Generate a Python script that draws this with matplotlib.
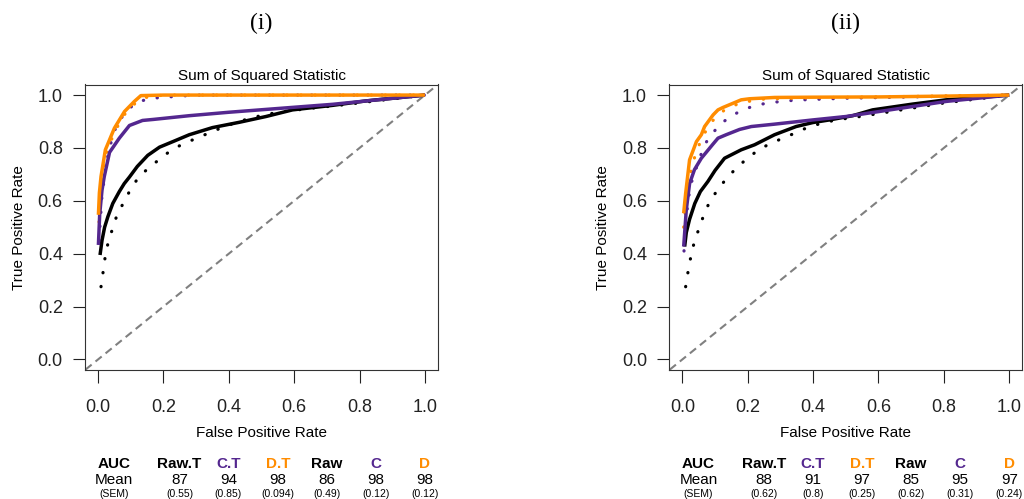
import numpy as np
import matplotlib
matplotlib.use('Agg')
import matplotlib.pyplot as plt

plt.rcParams['font.family'] = ['Liberation Sans', 'DejaVu Sans']

PURPLE = '#54278f'
ORANGE = '#ff8c00'

# ---- panel (i) curves (fpr, tpr)
p1_raw_fpr = [0.006, 0.012, 0.02, 0.03, 0.045, 0.065, 0.08, 0.096, 0.12, 0.152, 0.188, 0.229, 0.279, 0.35, 0.432, 0.514, 0.595, 0.717, 0.82, 1.0]
p1_raw_tpr = [0.395, 0.45, 0.50, 0.54, 0.59, 0.635, 0.665, 0.69, 0.73, 0.772, 0.803, 0.824, 0.85, 0.877, 0.897, 0.919, 0.944, 0.961, 0.978, 1.0]
p1_rawT_fpr = [0.009, 0.0153, 0.0214, 0.030, 0.043, 0.057, 0.077, 0.098, 0.122, 0.154, 0.189, 0.223, 0.261, 0.302, 0.342, 0.383, 0.424, 0.467, 0.508, 0.552, 0.65, 0.75, 0.85, 1.0]
p1_rawT_tpr = [0.275, 0.330, 0.385, 0.438, 0.490, 0.543, 0.591, 0.640, 0.686, 0.724, 0.758, 0.791, 0.816, 0.837, 0.858, 0.879, 0.897, 0.913, 0.925, 0.935, 0.950, 0.963, 0.978, 1.0]
p1_C_fpr = [0.001, 0.005, 0.012, 0.019, 0.035, 0.065, 0.096, 0.136, 0.17, 0.279, 0.4, 0.717, 1.0]
p1_C_tpr = [0.433, 0.55, 0.64, 0.692, 0.783, 0.837, 0.885, 0.904, 0.908, 0.922, 0.935, 0.965, 1.0]
p1_CT_fpr = [0.003, 0.012, 0.024, 0.0315, 0.043, 0.057, 0.080, 0.111, 0.152, 0.193, 0.239, 0.3, 1.0]
p1_CT_tpr = [0.45, 0.62, 0.730, 0.780, 0.837, 0.887, 0.929, 0.967, 0.986, 0.991, 0.995, 1.0, 1.0]
p1_D_fpr = [0.001, 0.004, 0.009, 0.0223, 0.050, 0.081, 0.111, 0.131, 0.2, 1.0]
p1_D_tpr = [0.547, 0.63, 0.692, 0.793, 0.875, 0.938, 0.976, 0.998, 1.0, 1.0]
p1_DT_fpr = [0.003, 0.01, 0.022, 0.05, 0.08, 0.11, 0.14, 0.2, 1.0]
p1_DT_tpr = [0.52, 0.66, 0.77, 0.86, 0.925, 0.965, 0.99, 1.0, 1.0]

# ---- panel (ii) curves
p2_raw_fpr = [0.007, 0.012, 0.022, 0.038, 0.055, 0.078, 0.10, 0.129, 0.18, 0.221, 0.282, 0.348, 0.399, 0.45, 0.521, 0.582, 0.705, 0.807, 1.0]
p2_raw_tpr = [0.427, 0.48, 0.53, 0.59, 0.635, 0.673, 0.715, 0.761, 0.793, 0.812, 0.850, 0.881, 0.896, 0.906, 0.922, 0.944, 0.966, 0.982, 1.0]
p2_rawT_fpr = [0.010, 0.017, 0.025, 0.035, 0.049, 0.064, 0.081, 0.104, 0.132, 0.162, 0.196, 0.229, 0.267, 0.308, 0.348, 0.389, 0.429, 0.470, 0.55, 0.65, 0.8, 1.0]
p2_rawT_tpr = [0.275, 0.329, 0.383, 0.437, 0.489, 0.541, 0.590, 0.635, 0.680, 0.720, 0.758, 0.789, 0.816, 0.837, 0.858, 0.881, 0.894, 0.906, 0.92, 0.94, 0.97, 1.0]
p2_C_fpr = [0.004, 0.012, 0.022, 0.037, 0.058, 0.094, 0.109, 0.134, 0.175, 0.211, 0.282, 0.399, 0.501, 0.603, 0.705, 0.807, 1.0]
p2_C_tpr = [0.427, 0.566, 0.665, 0.718, 0.761, 0.815, 0.837, 0.850, 0.870, 0.881, 0.890, 0.906, 0.919, 0.938, 0.957, 0.976, 1.0]
p2_CT_fpr = [0.005, 0.012, 0.02, 0.03, 0.046, 0.06, 0.078, 0.107, 0.139, 0.178, 0.218, 0.26, 0.304, 0.348, 0.5, 0.7, 1.0]
p2_CT_tpr = [0.41, 0.54, 0.62, 0.68, 0.736, 0.786, 0.834, 0.877, 0.913, 0.940, 0.959, 0.970, 0.976, 0.981, 0.988, 0.993, 1.0]
p2_D_fpr = [0.004, 0.010, 0.022, 0.043, 0.058, 0.068, 0.094, 0.109, 0.124, 0.18, 0.205, 0.282, 0.4, 0.6, 0.8, 1.0]
p2_D_tpr = [0.553, 0.628, 0.755, 0.824, 0.850, 0.881, 0.925, 0.944, 0.953, 0.982, 0.986, 0.991, 0.992, 0.993, 0.996, 1.0]
p2_DT_fpr = [0.004, 0.015, 0.027, 0.038, 0.06, 0.09, 0.13, 0.18, 0.25, 0.4, 0.7, 1.0]
p2_DT_tpr = [0.50, 0.64, 0.717, 0.767, 0.84, 0.9, 0.945, 0.972, 0.985, 0.99, 0.995, 1.0]

# ---- AUC table
methods = ['Raw.T', 'C.T', 'D.T', 'Raw', 'C', 'D']
method_colors = ['black', PURPLE, ORANGE, 'black', PURPLE, ORANGE]
p1_mean = ['87', '94', '98', '86', '98', '98']
p1_sem = ['(0.55)', '(0.85)', '(0.094)', '(0.49)', '(0.12)', '(0.12)']
p2_mean = ['88', '91', '97', '85', '95', '97']
p2_sem = ['(0.62)', '(0.8)', '(0.25)', '(0.62)', '(0.31)', '(0.24)']
col_x = [0.049, 0.249, 0.399, 0.55, 0.70, 0.849, 1.0]

fig = plt.figure(figsize=(10.24, 4.99), dpi=100)
ax1 = fig.add_axes([85 / 1024, 1 - 370 / 499, 353 / 1024, 285.5 / 499])
ax2 = fig.add_axes([669.3 / 1024, 1 - 370 / 499, 353 / 1024, 285.5 / 499])

dot_style = dict(lw=2.3, linestyle=(0, (0.1, 4.3)), dash_capstyle='round')


def draw_panel(ax, curves, mean, sem, tag):
    ax.plot([-0.1, 1.1], [-0.1, 1.1], color='#808080', lw=1.5, linestyle=(0, (3.8, 2.4)))
    # dotted (transformed) first, solid on top
    for fpr, tpr, col, dotted in curves:
        if dotted:
            ax.plot(fpr, tpr, color=col, **dot_style)
    for fpr, tpr, col, dotted in curves:
        if not dotted:
            ax.plot(fpr, tpr, color=col, lw=2.5, solid_capstyle='butt')
    ax.set_xlim(-0.04, 1.04)
    ax.set_ylim(-0.04, 1.04)
    ax.set_xticks([0, 0.2, 0.4, 0.6, 0.8, 1.0])
    ax.set_yticks([0, 0.2, 0.4, 0.6, 0.8, 1.0])
    ax.set_xticklabels(['0.0', '0.2', '0.4', '0.6', '0.8', '1.0'])
    ax.set_yticklabels(['0.0', '0.2', '0.4', '0.6', '0.8', '1.0'])
    ax.tick_params(axis='both', direction='out', length=9, width=0.8, labelsize=13, colors='#222222')
    ax.tick_params(axis='x', pad=12)
    ax.tick_params(axis='y', pad=7)
    for s in ax.spines.values():
        s.set_linewidth(0.8)
        s.set_color('#333333')
    ax.set_title('Sum of Squared Statistic', fontsize=11, pad=3)
    ax.text(-0.188, 0.5, 'True Positive Rate', transform=ax.transAxes, rotation=90,
            ha='center', va='center', fontsize=11)
    ax.text(0.5, -0.22, 'False Positive Rate', transform=ax.transAxes,
            ha='center', va='center', fontsize=11)
    ax.text(0.5, 1.215, tag, transform=ax.transAxes, ha='center', va='center',
            fontsize=17, family='Liberation Serif')

    # AUC table under the axes
    ax.text(col_x[0], -0.394, 'AUC', ha='center', va='center', fontsize=11,
            fontweight='bold', clip_on=False)
    ax.text(col_x[0], -0.457, 'Mean', ha='center', va='center', fontsize=11, clip_on=False)
    ax.text(col_x[0], -0.508, '(SEM)', ha='center', va='center', fontsize=7.5, clip_on=False)
    for i, m in enumerate(methods):
        x = col_x[i + 1]
        ax.text(x, -0.394, m, ha='center', va='center', fontsize=11, fontweight='bold',
                color=method_colors[i], clip_on=False)
        ax.text(x, -0.457, mean[i], ha='center', va='center', fontsize=11, clip_on=False)
        ax.text(x, -0.508, sem[i], ha='center', va='center', fontsize=7.5, clip_on=False)


curves1 = [
    (p1_raw_fpr, p1_raw_tpr, 'black', False),
    (p1_C_fpr, p1_C_tpr, PURPLE, False),
    (p1_D_fpr, p1_D_tpr, ORANGE, False),
    (p1_rawT_fpr, p1_rawT_tpr, 'black', True),
    (p1_CT_fpr, p1_CT_tpr, PURPLE, True),
    (p1_DT_fpr, p1_DT_tpr, ORANGE, True),
]
curves2 = [
    (p2_raw_fpr, p2_raw_tpr, 'black', False),
    (p2_C_fpr, p2_C_tpr, PURPLE, False),
    (p2_D_fpr, p2_D_tpr, ORANGE, False),
    (p2_rawT_fpr, p2_rawT_tpr, 'black', True),
    (p2_CT_fpr, p2_CT_tpr, PURPLE, True),
    (p2_DT_fpr, p2_DT_tpr, ORANGE, True),
]

draw_panel(ax1, curves1, p1_mean, p1_sem, '(i)')
draw_panel(ax2, curves2, p2_mean, p2_sem, '(ii)')

fig.savefig('out.png', dpi=100)
